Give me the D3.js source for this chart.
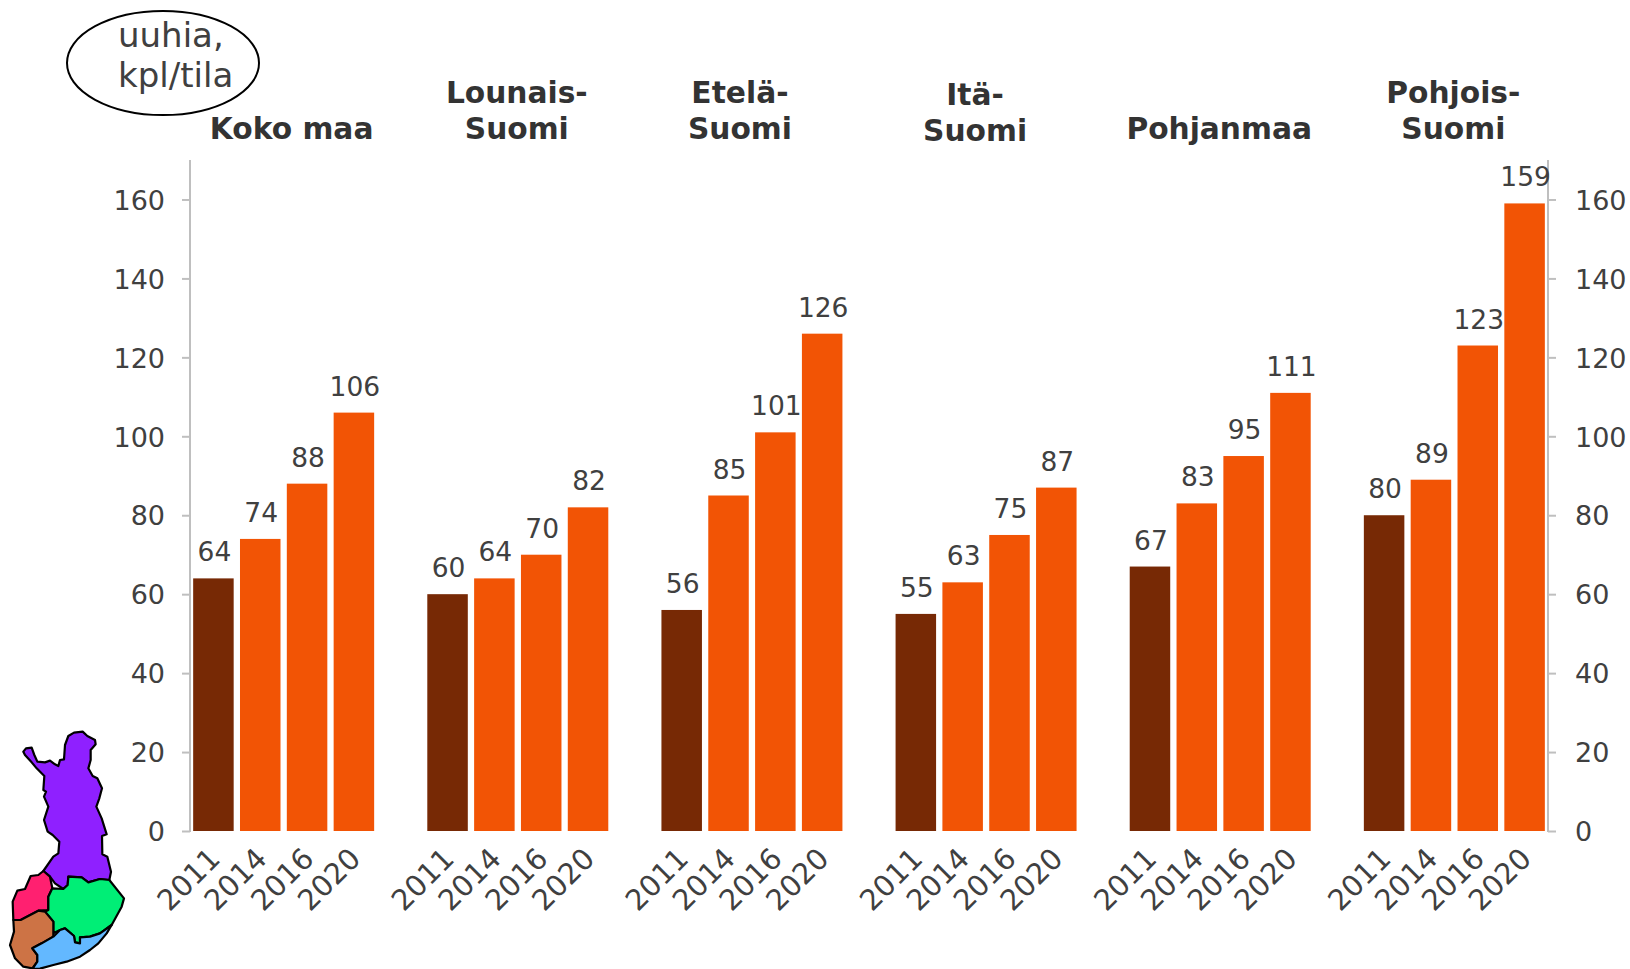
<!DOCTYPE html>
<html><head><meta charset="utf-8">
<script src="https://cdn.jsdelivr.net/npm/d3@7/dist/d3.min.js"></script>
<style>html,body{margin:0;padding:0;background:#fff}svg{display:block}text{font-family:"DejaVu Sans",sans-serif}</style>
</head><body><svg id="c" width="1630" height="969"></svg>
<script>
const regions = ["Koko maa","Lounais-\nSuomi","Etelä-\nSuomi","Itä-\nSuomi","Pohjanmaa","Pohjois-\nSuomi"];
const years = ["2011","2014","2016","2020"];
const kokoMaa = [64,74,88,106];
const lounaisSuomi = [60,64,70,82];
const etelaSuomi = [56,85,101,126];
const itaSuomi = [55,63,75,87];
const pohjanmaa = [67,83,95,111];
const pohjoisSuomi = [80,89,123,159];
const series = [kokoMaa,lounaisSuomi,etelaSuomi,itaSuomi,pohjanmaa,pohjoisSuomi];
const yTicks = [0,20,40,60,80,100,120,140,160];
const unitLabel = ["uuhia,","kpl/tila"];

const svg = d3.select("#c");
const L=190,R=1548,Y0=831,YTop=160,FS=27;
const y = d3.scaleLinear().domain([0,170]).range([Y0,YTop]);
const slots = [];
regions.forEach((r,g)=>{years.forEach((yr,i)=>slots.push(g+"-"+i)); if(g<regions.length-1) slots.push("gap"+g);});
const x = d3.scaleBand().domain(slots).range([L,R]).paddingInner(0.135).paddingOuter(0.0675);

// bars
const rows = series.flatMap((vals,g)=>vals.map((v,i)=>({g,i,v,k:g+"-"+i})));
svg.append("g").selectAll("rect").data(rows).join("rect")
  .attr("x",d=>x(d.k)).attr("width",x.bandwidth())
  .attr("y",d=>y(d.v)).attr("height",d=>Y0-y(d.v))
  .attr("fill",d=>d.i===0?"#772905":"#F25405");

// axes
function styleAxis(g){
  g.selectAll("path,line").attr("stroke","#bfbfbf").attr("stroke-width",2);
  g.selectAll("text").attr("fill","#404040").attr("font-size",FS).attr("dy","0.36em");
}
const left = svg.append("g").attr("transform",`translate(${L},0)`)
  .call(d3.axisLeft(y).tickValues(yTicks).tickSize(8).tickSizeOuter(0).tickPadding(17)).call(styleAxis);
const right = svg.append("g").attr("transform",`translate(${R},0)`)
  .call(d3.axisRight(y).tickValues(yTicks).tickSize(8).tickSizeOuter(0).tickPadding(19)).call(styleAxis);
left.select(".domain").remove(); right.select(".domain").remove();
svg.append("line").attr("x1",L).attr("x2",L).attr("y1",YTop).attr("y2",Y0+1).attr("stroke","#bfbfbf").attr("stroke-width",2);
svg.append("line").attr("x1",R).attr("x2",R).attr("y1",YTop).attr("y2",Y0+1).attr("stroke","#bfbfbf").attr("stroke-width",2);

// value labels
svg.append("g").selectAll("text").data(rows).join("text")
  .attr("x",d=>x(d.k)+x.bandwidth()/2+1).attr("y",d=>y(d.v)-17)
  .attr("text-anchor","middle").attr("font-size",26.5).attr("fill","#404040").text(d=>d.v);

// year labels
svg.append("g").selectAll("text").data(rows).join("text")
  .attr("transform",d=>`translate(${x(d.k)+x.bandwidth()/2-6},${Y0+15}) rotate(-45)`)
  .attr("text-anchor","end").attr("dy","0.7em").attr("font-size",29).attr("fill","#404040").text(d=>years[d.i]);

// region titles
const titleShift = [8,-1,-12,-11,-1,-1];
const titleDrop = [0,0,0,2,0,0];
regions.forEach((r,g)=>{
  const lines=r.split("\n");
  const cx=(x(g+"-1")+x(g+"-2")+x.bandwidth())/2+titleShift[g];
  lines.forEach((t,j)=>{
    svg.append("text").attr("x",cx).attr("y",139+titleDrop[g]-(lines.length-1-j)*36)
      .attr("text-anchor","middle").attr("font-size",29.7).attr("font-weight","bold").attr("fill","#333").text(t);
  });
});

// unit ellipse
svg.append("ellipse").attr("cx",163).attr("cy",63).attr("rx",96).attr("ry",52)
  .attr("fill","none").attr("stroke","#000").attr("stroke-width",2);
unitLabel.forEach((t,j)=>svg.append("text").attr("x",118).attr("y",47+j*40)
  .attr("font-size",34).attr("fill","#404040").text(t));

// inset map of regions
const mapShapes = [
 ["#8F20FF",[[70,155],[78,145],[95,143],[103,165],[112,185],[135,187],[150,182],[165,193],[175,198],[180,180],[192,178],[195,135],[205,108],[222,98],[248,95],[262,108],[285,120],[287,133],[272,150],[272,180],[265,205],[278,228],[292,235],[306,265],[298,295],[289,320],[305,355],[320,403],[306,408],[307,463],[322,470],[333,515],[328,540],[300,537],[265,547],[245,532],[205,530],[203,555],[190,567],[165,550],[150,530],[130,513],[160,470],[175,460],[178,425],[158,405],[143,395],[132,360],[145,320],[132,290],[138,275],[130,270],[133,228],[110,205],[95,187],[75,165]]],
 ["#FF2070",[[130,513],[150,530],[157,565],[145,590],[145,630],[115,632],[62,660],[40,660],[38,605],[52,572],[75,567],[92,528],[115,525]]],
 ["#00EE76",[[157,565],[190,567],[203,555],[205,530],[245,532],[265,547],[300,537],[328,540],[372,595],[365,620],[335,675],[300,700],[270,710],[240,712],[240,730],[225,727],[222,708],[195,685],[180,690],[160,700],[160,665],[135,635],[145,630],[145,590]]],
 ["#CD7345",[[40,660],[62,660],[115,632],[135,635],[160,665],[160,710],[125,730],[97,745],[112,765],[112,785],[97,805],[70,800],[45,775],[30,735],[42,695]]],
 ["#63B8FF",[[160,710],[180,690],[195,685],[222,708],[225,727],[240,730],[240,712],[270,710],[300,700],[335,675],[320,700],[295,730],[270,750],[240,770],[200,785],[160,795],[120,806],[97,807],[112,785],[112,765],[97,745],[125,730]]]
];
const mapLine = d3.line().x(p=>p[0]/3).y(p=>700+p[1]/3).curve(d3.curveLinearClosed);
svg.append("g").selectAll("path").data(mapShapes).join("path")
  .attr("d",d=>mapLine(d[1])).attr("fill",d=>d[0]).attr("stroke","#000").attr("stroke-width",2.2).attr("stroke-linejoin","round");
</script></body></html>
